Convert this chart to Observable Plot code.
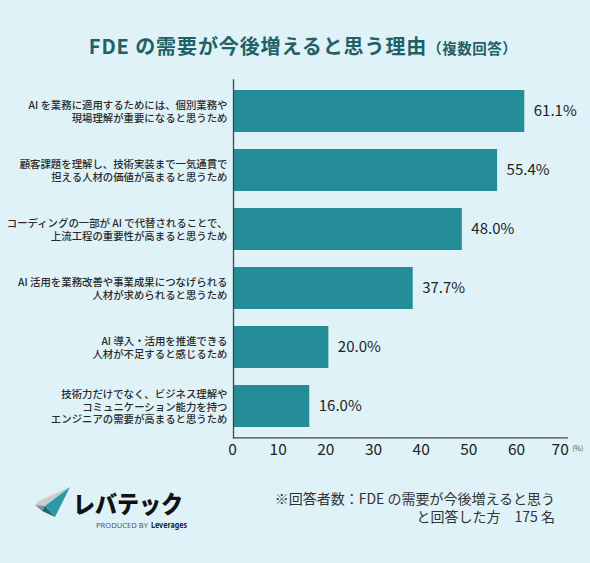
<!DOCTYPE html>
<html>
<head>
<meta charset="utf-8">
<script src="https://cdn.jsdelivr.net/npm/d3@7"></script>
<script src="https://cdn.jsdelivr.net/npm/@observablehq/plot@0.6"></script>
<style>
  html, body { margin: 0; padding: 0; }
  body { width: 590px; height: 563px; background: #dff2f8; position: relative; overflow: hidden;
         font-family: "Noto Sans CJK JP", "Noto Sans", sans-serif; }
  #title { position: absolute; left: 8px; width: 590px; top: 31px; text-align: center;
           font-size: 20px; font-weight: 700; color: #1f6164; letter-spacing: 0.9px; line-height: 30px; }
  #title small { font-size: 14.5px; letter-spacing: 0.5px; }
  #chart { position: absolute; left: 0; top: 70px; }
  #note { position: absolute; right: 35px; top: 489px; text-align: right; font-size: 14px;
          line-height: 18px; color: #333; }
  #logo { position: absolute; left: 30px; top: 480px; }
</style>
</head>
<body>
<div id="title">FDE の需要が今後増えると思う理由<small>（複数回答）</small></div>
<div id="chart"></div>
<div id="note">※回答者数：FDE の需要が今後増えると思う<br>と回答した方　175 名</div>
<svg id="logo" width="170" height="52" viewBox="0 0 170 52">
  <polygon points="5,25 9,21 40,7 15,26" fill="#c8cdd1"/>
  <polygon points="5,25 15,26 12,31" fill="#8a9096"/>
  <polygon points="15,26 40,7 25,37" fill="#2a9aa5"/>
  <polygon points="12,31 15,26 25,37" fill="#1c6b73"/>
  <text x="43" y="33" font-size="24" font-weight="900" fill="#111" textLength="110" lengthAdjust="spacingAndGlyphs"
        font-family="'Noto Sans CJK JP', sans-serif">レバテック</text>
  <text x="66" y="48" font-size="6.3" fill="#555" textLength="52" lengthAdjust="spacingAndGlyphs"
        font-family="'Noto Sans', sans-serif">PRODUCED BY</text>
  <text x="121" y="48" font-size="8.5" font-weight="700" fill="#222" textLength="36" lengthAdjust="spacingAndGlyphs"
        font-family="'Noto Sans', sans-serif">Leverages</text>
</svg>
<script>
const categories = [
  "AI を業務に適用するためには、個別業務や\n現場理解が重要になると思うため",
  "顧客課題を理解し、技術実装まで一気通貫で\n担える人材の価値が高まると思うため",
  "コーディングの一部が AI で代替されることで、\n上流工程の重要性が高まると思うため",
  "AI 活用を業務改善や事業成果につなげられる\n人材が求められると思うため",
  "AI 導入・活用を推進できる\n人材が不足すると感じるため",
  "技術力だけでなく、ビジネス理解や\nコミュニケーション能力を持つ\nエンジニアの需要が高まると思うため"
];
const values = [61.1, 55.4, 48.0, 37.7, 20.0, 16.0];
const xTicks = [0, 10, 20, 30, 40, 50, 60, 70];
const unitLabel = ["(%)"];

const data = categories.map((c, i) => ({category: c, value: values[i]}));

const tickStyle = {tickSize: 0, tickPadding: 6, fontSize: 15.5, fill: "#222", tickFormat: d => String(d), label: null};

const chart = Plot.plot({
  width: 590,
  height: 400,
  marginTop: 9.3,
  marginBottom: 32.7,
  marginLeft: 233,
  marginRight: 23.3,
  x: {domain: [0, 70]},
  y: {domain: categories, paddingInner: 0.28, paddingOuter: 0.14},
  style: {background: "transparent", fontFamily: "'Noto Sans CJK JP', 'Noto Sans', sans-serif", color: "#222"},
  marks: [
    Plot.barX(data, {x: "value", y: "category", fill: "#258d97"}),
    Plot.text(data, {x: "value", y: "category", text: d => d.value.toFixed(1) + "%",
      textAnchor: "start", dx: 9, fontSize: 15, fill: "#222"}),
    Plot.frame({anchor: "left", stroke: "#444", strokeWidth: 1.3}),
    Plot.frame({anchor: "bottom", stroke: "#444", strokeWidth: 1.3}),
    Plot.axisX({...tickStyle, ticks: xTicks.slice(0, 1), dx: -1}),
    Plot.axisX({...tickStyle, ticks: xTicks.slice(1, -1), dx: -3}),
    Plot.axisX({...tickStyle, ticks: xTicks.slice(-1), dx: -7}),
    Plot.axisY({tickSize: 0, tickPadding: 6, fontSize: 10.4, fontWeight: 500, lineHeight: 1.2, fill: "#2b2b2b", label: null}),
    Plot.text(unitLabel, {frameAnchor: "bottom-right", text: d => d, textAnchor: "start",
      dx: 5, dy: 13, fontSize: 7, fill: "#555"})
  ]
});
document.getElementById("chart").appendChild(chart);
</script>
</body>
</html>
